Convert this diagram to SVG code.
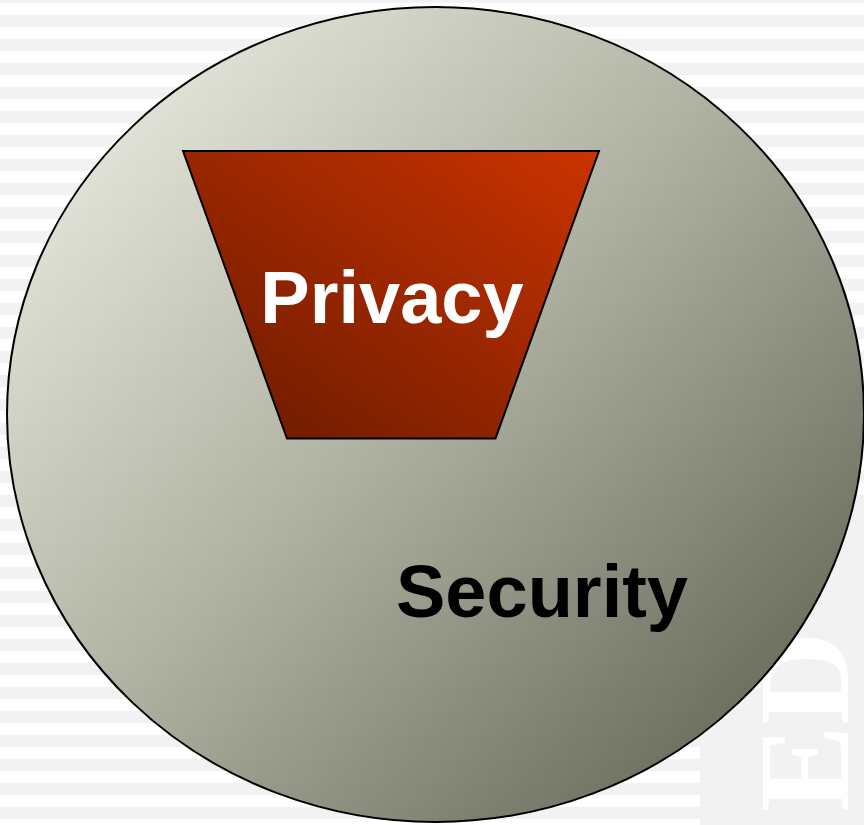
<svg xmlns="http://www.w3.org/2000/svg" width="864" height="825" viewBox="0 0 864 825">
  <defs>
    <pattern id="stripes" patternUnits="userSpaceOnUse" x="0" y="15" width="864" height="24">
      <rect x="0" y="0" width="864" height="24" fill="#ffffff"/>
      <rect x="0" y="0" width="864" height="12" fill="#f2f2f2"/>
    </pattern>
    <linearGradient id="gCircle" x1="0.1" y1="0.1" x2="0.95" y2="0.9">
      <stop offset="0" stop-color="#e6e7dc"/>
      <stop offset="0.45" stop-color="#acae9e"/>
      <stop offset="1" stop-color="#5a5e4c"/>
    </linearGradient>
    <linearGradient id="gTrap" x1="1" y1="0" x2="0" y2="1">
      <stop offset="0" stop-color="#cc3300"/>
      <stop offset="1" stop-color="#661a00"/>
    </linearGradient>
    <style>
      .lbl { font-family: "Liberation Sans", Arial, sans-serif; font-weight: bold; font-size: 74px; text-anchor: middle; }
      .wm { font-family: "Liberation Serif", "Times New Roman", serif; font-weight: bold; font-size: 130px; fill: #ffffff; }
    </style>
  </defs>

  <g id="background">
    <rect x="0" y="0" width="864" height="825" fill="url(#stripes)"/>
    <rect x="700" y="500" width="164" height="325" fill="#f2f2f2"/>
    <text class="wm" transform="translate(848,812) rotate(-90)">ED</text>
  </g>

  <g id="security">
    <ellipse cx="435.5" cy="414.5" rx="428.5" ry="407.5" fill="url(#gCircle)" fill-opacity="0.95" stroke="#000000" stroke-width="2"/>
    <text class="lbl" x="542" y="617" fill="#000000">Security</text>
  </g>

  <g id="privacy">
    <polygon points="183,151 599,151 495.5,438.5 287,438.5" fill="url(#gTrap)" stroke="#000000" stroke-width="2"/>
    <text class="lbl" x="392" y="323" fill="#ffffff">Privacy</text>
  </g>

  <g id="connectors"/>
</svg>
